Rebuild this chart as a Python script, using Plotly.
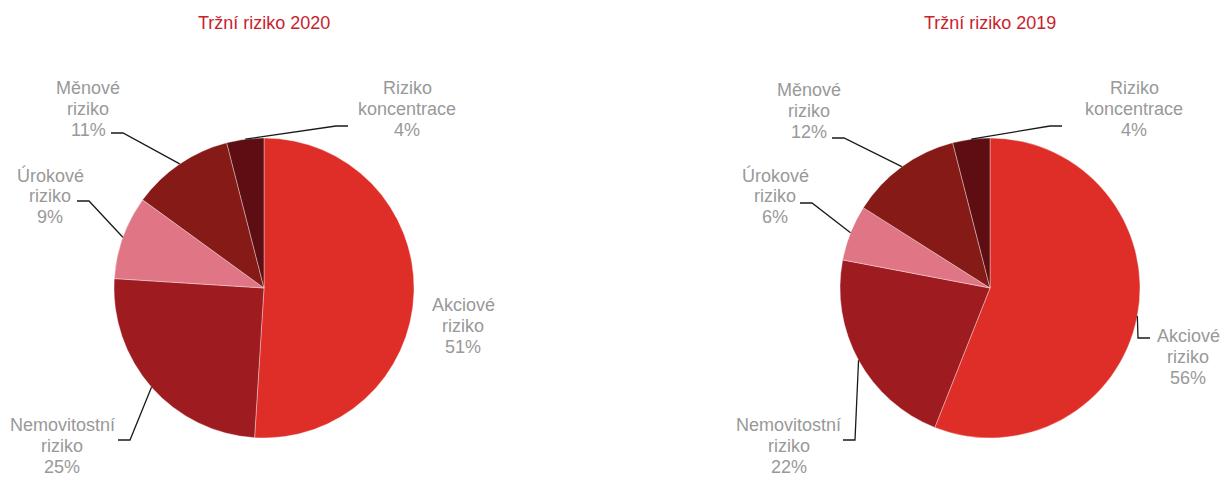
import math
import plotly.graph_objects as go

W, H = 1223, 477

categories = ["Akciové riziko", "Nemovitostní riziko", "Úrokové riziko", "Měnové riziko", "Riziko koncentrace"]
label_lines = [["Akciové", "riziko"], ["Nemovitostní", "riziko"], ["Úrokové", "riziko"],
               ["Měnové", "riziko"], ["Riziko", "koncentrace"]]
values_2020 = [51, 25, 9, 11, 4]
values_2019 = [56, 22, 6, 12, 4]
titles = ["Tržní riziko 2020", "Tržní riziko 2019"]
colors = ["#DF2E27", "#9E1C20", "#E07585", "#861A17", "#5E0E12"]

label_color = "#999999"
title_color = "#C8232C"
FONT = "Liberation Sans, Arial, sans-serif"
LINE_H = 21

# layout: pie centre (px) and radius (px)
pies = [
    dict(values=values_2020, title=titles[0], cx=264, cy=288, r=150,
         labels=[dict(tx=463, ty=326, end=None),
                 dict(tx=62, ty=446, end=(118, 440), stub=1),
                 dict(tx=50, ty=196, end=(77, 201), stub=1),
                 dict(tx=88, ty=109, end=(111, 133), stub=1),
                 dict(tx=407, ty=109, end=(348, 126), stub=-1)]),
    dict(values=values_2019, title=titles[1], cx=990, cy=288, r=150,
         labels=[dict(tx=1188, ty=357, end=(1150, 338), stub=-1),
                 dict(tx=789, ty=446, end=(843, 440), stub=1),
                 dict(tx=775, ty=196, end=(800, 203), stub=1),
                 dict(tx=809, ty=111, end=(832, 138), stub=1),
                 dict(tx=1134, ty=109, end=(1062, 126), stub=-1)]),
]


def px(x):
    return x / W


def py(y):
    return 1 - y / H


fig = go.Figure()
annotations = []
shapes = []

for p in pies:
    cx, cy, r = p["cx"], p["cy"], p["r"]
    fig.add_trace(go.Pie(
        labels=categories, values=p["values"], sort=False, direction="clockwise",
        rotation=0, textinfo="none", hoverinfo="label+percent",
        marker=dict(colors=colors, line=dict(color="rgba(255,255,255,0.6)", width=0.6)),
        domain=dict(x=[px(cx - r), px(cx + r)], y=[py(cy + r), py(cy - r)]),
        showlegend=False,
    ))
    annotations.append(dict(
        text=p["title"], x=px(cx), y=py(23), xref="paper", yref="paper",
        showarrow=False, font=dict(family=FONT, size=18, color=title_color),
        xanchor="center", yanchor="middle"))
    total = sum(p["values"])
    cum = 0
    for v, lab, spec in zip(p["values"], label_lines, p["labels"]):
        mid = (cum + v / 2) / total * 2 * math.pi
        cum += v
        pct = round(v / total * 100)
        lines = lab + [f"{pct}%"]
        for i, line in enumerate(lines):
            annotations.append(dict(
                text=line, x=px(spec["tx"]), y=py(spec["ty"] + (i - 1) * LINE_H),
                xref="paper", yref="paper", showarrow=False, align="center",
                font=dict(family=FONT, size=18, color=label_color),
                xanchor="center", yanchor="middle"))
        if spec["end"] is not None:
            ax = cx + r * math.sin(mid)
            ay = cy - r * math.cos(mid)
            ex, ey = spec["end"]
            elx = ex + 12 * spec["stub"]
            path = f"M {px(ax)} {py(ay)} L {px(elx)} {py(ey)} L {px(ex)} {py(ey)}"
            shapes.append(dict(type="path", path=path, xref="paper", yref="paper",
                               line=dict(color="#1a1a1a", width=1.3)))

fig.update_layout(
    width=W, height=H,
    margin=dict(l=0, r=0, t=0, b=0),
    paper_bgcolor="white", plot_bgcolor="white",
    annotations=annotations, shapes=shapes,
    font=dict(family=FONT),
)

fig.write_html("out.html", config={"displayModeBar": False},
               post_script="document.body.style.margin='0';document.body.style.overflow='hidden';")
